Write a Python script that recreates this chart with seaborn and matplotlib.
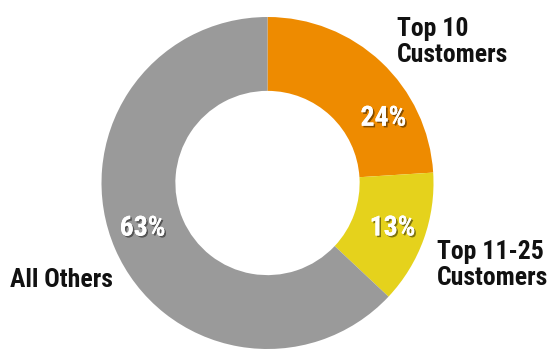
import numpy as np
import matplotlib
matplotlib.use("Agg")
import matplotlib.pyplot as plt
import matplotlib.patheffects as pe
import seaborn as sns

segments = ["Top 10\nCustomers", "Top 11-25\nCustomers", "All Others"]
shares = [24, 13, 63]
colors = ["#EE8B00", "#E5D21C", "#9A9A9A"]

sns.set_theme(style="white")
plt.rcParams["font.family"] = ["Roboto Condensed", "DejaVu Sans"]

W, H = 552, 351
fig = plt.figure(figsize=(W / 100, H / 100), dpi=100)
cx, cy, R = 267.5, 183.0, 166.0
ax = fig.add_axes([(cx - R) / W, (H - cy - R) / H, 2 * R / W, 2 * R / H])

wedges, _ = ax.pie(shares, colors=colors, startangle=90, counterclock=False,
                   radius=1.0, wedgeprops=dict(width=0.445, linewidth=0))
ax.set_xlim(-1, 1)
ax.set_ylim(-1, 1)
ax.set_aspect("equal")
ax.axis("off")

# percentage labels inside the ring
label_angles = [29.2, -19.8, 199.9]
shadow = [pe.withSimplePatchShadow(offset=(1.2, -1.2), shadow_rgbFace="black", alpha=0.45),
          pe.Normal()]
for v, ang in zip(shares, label_angles):
    a = np.deg2rad(ang)
    ax.text(0.80 * np.cos(a), 0.80 * np.sin(a), f"{v}%", color="white",
            fontsize=20, fontweight="bold", ha="center", va="center",
            path_effects=shadow)

# category labels (x, last-line baseline) in pixels
label_pos = [(397, 62), (437, 285), (10, 287)]
for name, (px, py) in zip(segments, label_pos):
    fig.text(px / W, 1 - py / H, name, fontsize=18.5, fontweight="bold",
             color="#111111", ha="left", va="baseline", linespacing=1.13)

fig.savefig("out.png", dpi=100)
